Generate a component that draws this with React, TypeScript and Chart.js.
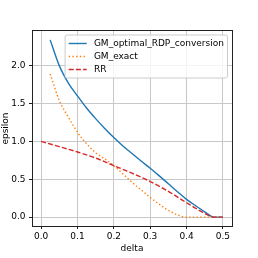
import React, { useEffect, useRef } from 'react';
import { Chart, registerables } from 'chart.js';

Chart.register(...registerables);

// ---- data ----
const deltaGM = [0.025, 0.05, 0.075, 0.1, 0.125, 0.15, 0.175, 0.2, 0.225, 0.25, 0.275, 0.3, 0.325, 0.35, 0.375, 0.4, 0.425, 0.45, 0.475, 0.5];
const gmOptimal = [2.34, 2.0, 1.77, 1.6, 1.44, 1.3, 1.17, 1.05, 0.94, 0.84, 0.74, 0.645, 0.545, 0.44, 0.335, 0.235, 0.15, 0.07, 0.0, 0.0];
const gmExact = [1.89, 1.54, 1.32, 1.12, 0.97, 0.85, 0.77, 0.68, 0.57, 0.46, 0.36, 0.26, 0.17, 0.09, 0.03, 0.0, 0.0, 0.0, 0.0, 0.0];
const deltaRR = [0, 0.05, 0.1, 0.15, 0.2, 0.25, 0.3, 0.35, 0.4, 0.45, 0.475, 0.5];
const rr = [1.0, 0.93, 0.86, 0.78, 0.68, 0.58, 0.47, 0.34, 0.19, 0.05, 0.0, 0.0];
const seriesLabels = ['GM_optimal_RDP_conversion', 'GM_exact', 'RR'];
const xTickValues = [0, 0.1, 0.2, 0.3, 0.4, 0.5];
const yTickValues = [0, 0.5, 1.0, 1.5, 2.0];
const xLabel = 'delta';
const yLabel = 'epsilon';

const X_MIN = -0.025;
const X_MAX = 0.525;
const Y_MIN = -0.117;
const Y_MAX = 2.457;

const FONT = '"DejaVu Sans", sans-serif';
const FS = 9;

const pts = (xs: number[], ys: number[]) => xs.map((x, i) => ({ x, y: ys[i] }));

const frameAndLegend = {
  id: 'frameAndLegend',
  afterDatasetsDraw(chart: any) {
    const { ctx, chartArea: a } = chart;
    ctx.save();
    // spines
    ctx.strokeStyle = '#222';
    ctx.lineWidth = 1;
    ctx.setLineDash([]);
    ctx.strokeRect(Math.round(a.left) + 0.5, Math.round(a.top) - 0.5, Math.round(a.right - a.left), Math.round(a.bottom - a.top) + 1);

    // legend
    ctx.font = `${FS}px ${FONT}`;
    const ds = chart.data.datasets;
    const textW = Math.max(...ds.map((d: any) => ctx.measureText(d.label).width));
    const pad = 0.4 * FS;
    const handleLen = 2 * FS;
    const handlePad = 0.8 * FS;
    const rowH = 13;
    const edge = 8.5;
    const boxW = pad * 2 + handleLen + handlePad + textW;
    const boxH = edge * 2 + rowH * (ds.length - 1);
    const right = a.right - 4.5;
    const top = a.top + 4;
    const left = right - boxW;
    ctx.beginPath();
    if ((ctx as any).roundRect) (ctx as any).roundRect(left, top, boxW, boxH, 2);
    else ctx.rect(left, top, boxW, boxH);
    ctx.fillStyle = 'rgba(255,255,255,0.8)';
    ctx.fill();
    ctx.strokeStyle = '#cccccc';
    ctx.lineWidth = 1;
    ctx.stroke();
    ds.forEach((d: any, i: number) => {
      const cy = top + edge + i * rowH;
      ctx.beginPath();
      ctx.strokeStyle = d.borderColor;
      ctx.lineWidth = d.borderWidth;
      ctx.setLineDash(d.borderDash || []);
      ctx.moveTo(left + pad, cy);
      ctx.lineTo(left + pad + handleLen, cy);
      ctx.stroke();
      ctx.setLineDash([]);
      ctx.fillStyle = '#000';
      ctx.textBaseline = 'middle';
      ctx.textAlign = 'left';
      ctx.fillText(d.label, left + pad + handleLen + handlePad, cy);
    });
    ctx.restore();
  },
};

export default function App() {
  const ref = useRef<HTMLCanvasElement>(null);
  useEffect(() => {
    Chart.defaults.font.family = FONT;
    Chart.defaults.font.size = FS;
    Chart.defaults.color = '#000';
    const chart = new Chart(ref.current!, {
      type: 'line',
      data: {
        datasets: [
          {
            label: seriesLabels[0],
            data: pts(deltaGM, gmOptimal),
            borderColor: '#1f77b4',
            borderWidth: 1.4,
            pointRadius: 0,
            fill: false,
            cubicInterpolationMode: 'monotone',
            order: 3,
          },
          {
            label: seriesLabels[1],
            data: pts(deltaGM, gmExact),
            borderColor: '#ff7f0e',
            borderWidth: 1.4,
            borderDash: [1.4, 2.3],
            pointRadius: 0,
            fill: false,
            cubicInterpolationMode: 'monotone',
            order: 2,
          },
          {
            label: seriesLabels[2],
            data: pts(deltaRR, rr),
            borderColor: '#d62728',
            borderWidth: 1.4,
            borderDash: [5, 2.2],
            pointRadius: 0,
            fill: false,
            cubicInterpolationMode: 'monotone',
            order: 1,
          },
        ],
      },
      options: {
        animation: false,
        responsive: true,
        maintainAspectRatio: false,
        layout: { padding: { left: 0, top: 31, right: 26, bottom: 0 } },
        plugins: { legend: { display: false }, tooltip: { enabled: false } },
        scales: {
          x: {
            type: 'linear',
            min: X_MIN,
            max: X_MAX,
            afterBuildTicks: (s: any) => {
              s.ticks = xTickValues.map((v) => ({ value: v }));
            },
            afterFit: (s: any) => {
              s.height = 32;
            },
            ticks: {
              autoSkip: false,
              maxRotation: 0,
              padding: 2,
              color: '#000',
              font: { size: FS },
              callback: (v: any) => Number(v).toFixed(1),
            },
            grid: { color: '#c8c8c8', lineWidth: 1, tickLength: 3, tickColor: '#222', drawTicks: true },
            border: { display: false },
            title: { display: true, text: xLabel, color: '#000', font: { size: FS }, padding: { top: 0, bottom: 3.5 } },
          },
          y: {
            type: 'linear',
            min: Y_MIN,
            max: Y_MAX,
            afterBuildTicks: (s: any) => {
              s.ticks = yTickValues.map((v) => ({ value: v }));
            },
            afterFit: (s: any) => {
              s.width = 32;
            },
            ticks: {
              autoSkip: false,
              padding: 3.5,
              color: '#000',
              font: { size: FS },
              callback: (v: any) => Number(v).toFixed(1),
            },
            grid: { color: '#c8c8c8', lineWidth: 1, tickLength: 3, tickColor: '#222', drawTicks: true },
            border: { display: false },
            title: { display: true, text: yLabel, color: '#000', font: { size: FS }, padding: { top: 0, bottom: 0 } },
          },
        },
      },
      plugins: [frameAndLegend],
    } as any);
    return () => chart.destroy();
  }, []);
  return (
    <div style={{ position: 'absolute', left: 0, top: 0, width: 258, height: 258, background: '#fff' }}>
      <canvas ref={ref} />
    </div>
  );
}
